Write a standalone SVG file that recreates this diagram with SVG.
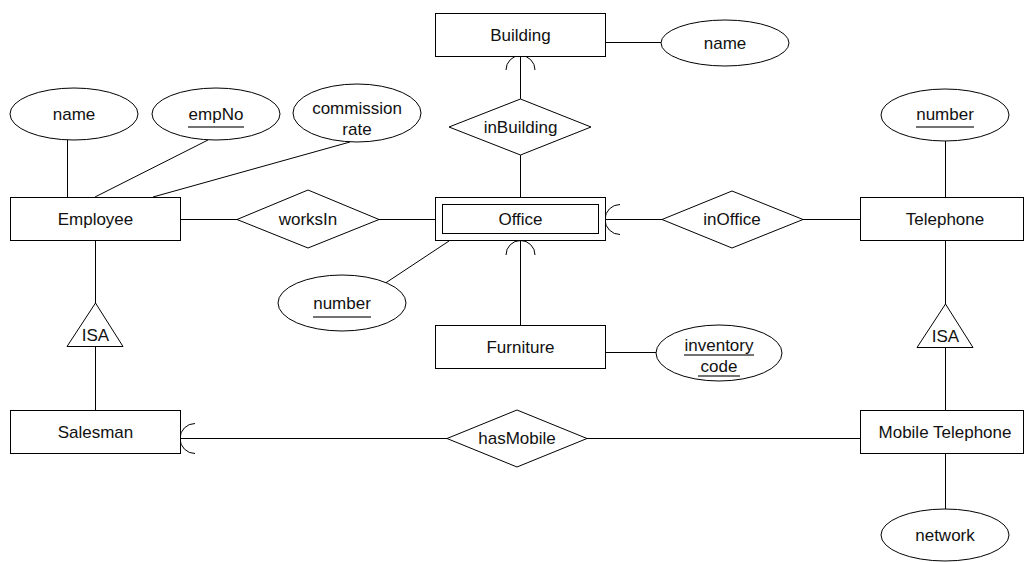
<svg xmlns="http://www.w3.org/2000/svg" width="1026" height="562" viewBox="0 0 1026 562">
<style>
  .shape { fill: #fff; stroke: #000; stroke-width: 1; }
  .line { fill: none; stroke: #000; stroke-width: 1; }
  .ul { stroke: #444; stroke-width: 1.5; }
  text { font-family: "Liberation Sans", Arial, sans-serif; font-size: 17px; fill: #111; text-anchor: middle; }
</style>
<rect width="1026" height="562" fill="#fff"/>
<g id="connectors">
  <line class="line" x1="67.5" y1="140" x2="67.5" y2="197"/>
  <line class="line" x1="208" y1="140" x2="95" y2="197"/>
  <line class="line" x1="350" y1="142" x2="153" y2="197"/>
  <line class="line" x1="181" y1="219.5" x2="237" y2="219.5"/>
  <line class="line" x1="379" y1="219.5" x2="435" y2="219.5"/>
  <line class="line" x1="605" y1="42.5" x2="661" y2="42.5"/>
  <line class="line" x1="520.5" y1="56" x2="520.5" y2="99"/>
  <path class="line" d="M506,70 A14.5,14.5 0 0 1 535,70"/>
  <line class="line" x1="520.5" y1="155" x2="520.5" y2="197"/>
  <line class="line" x1="605" y1="219.5" x2="662" y2="219.5"/>
  <path class="line" d="M620,204.5 A15,15 0 0 0 620,234.5"/>
  <line class="line" x1="803" y1="219.5" x2="860" y2="219.5"/>
  <line class="line" x1="384" y1="284" x2="449" y2="241"/>
  <line class="line" x1="520.5" y1="241" x2="520.5" y2="325"/>
  <path class="line" d="M506,255 A14.5,14.5 0 0 1 535,255"/>
  <line class="line" x1="605" y1="352.5" x2="656" y2="352.5"/>
  <line class="line" x1="945.5" y1="141" x2="945.5" y2="197"/>
  <line class="line" x1="945.5" y1="240" x2="945.5" y2="304"/>
  <line class="line" x1="945.5" y1="347" x2="945.5" y2="410"/>
  <line class="line" x1="945.5" y1="453" x2="945.5" y2="509"/>
  <line class="line" x1="95.5" y1="241" x2="95.5" y2="303"/>
  <line class="line" x1="95.5" y1="346" x2="95.5" y2="410"/>
  <line class="line" x1="181" y1="438.5" x2="447" y2="438.5"/>
  <path class="line" d="M195,423.5 A15,15 0 0 0 195,453.5"/>
  <line class="line" x1="587" y1="438.5" x2="860" y2="438.5"/>
</g>
<g id="attr-name">
  <ellipse class="shape" cx="74" cy="114" rx="64" ry="26"/>
  <text x="74" y="120">name</text>
</g>
<g id="attr-empNo">
  <ellipse class="shape" cx="216" cy="114" rx="64" ry="26"/>
  <text x="216" y="120">empNo</text>
  <line class="ul" x1="188" y1="127" x2="244" y2="127"/>
</g>
<g id="attr-commission">
  <ellipse class="shape" cx="357" cy="113" rx="64" ry="29"/>
  <text x="357" y="114">commission</text>
  <text x="357" y="135">rate</text>
</g>
<g id="employee">
  <rect class="shape" x="10.5" y="197.5" width="170" height="43"/>
  <text x="95.5" y="225">Employee</text>
</g>
<g id="worksIn">
  <polygon class="shape" points="237,219.5 308,190 379,219.5 308,248"/>
  <text x="308" y="225">worksIn</text>
</g>
<g id="building">
  <rect class="shape" x="435.5" y="13.5" width="170" height="43"/>
  <text x="520.5" y="41">Building</text>
</g>
<g id="attr-building-name">
  <ellipse class="shape" cx="725" cy="43" rx="64" ry="23"/>
  <text x="725" y="49">name</text>
</g>
<g id="inBuilding">
  <polygon class="shape" points="449,127 520.5,99 591,127 520.5,155"/>
  <text x="520.5" y="133">inBuilding</text>
</g>
<g id="office">
  <rect class="shape" x="435.5" y="197.5" width="170" height="43"/>
  <rect class="shape" x="442.5" y="204.5" width="156" height="29"/>
  <text x="520.5" y="225">Office</text>
</g>
<g id="inOffice">
  <polygon class="shape" points="662,219.5 732,191 803,219.5 732,248"/>
  <text x="732" y="225">inOffice</text>
</g>
<g id="attr-tel-number">
  <ellipse class="shape" cx="945" cy="115" rx="64" ry="26"/>
  <text x="945" y="120">number</text>
  <line class="ul" x1="916" y1="127" x2="974" y2="127"/>
</g>
<g id="telephone">
  <rect class="shape" x="860.5" y="197.5" width="163" height="43"/>
  <text x="945" y="225">Telephone</text>
</g>
<g id="attr-office-number">
  <ellipse class="shape" cx="342" cy="303" rx="64" ry="28"/>
  <text x="342" y="309">number</text>
  <line class="ul" x1="313" y1="317" x2="371" y2="317"/>
</g>
<g id="furniture">
  <rect class="shape" x="435.5" y="325.5" width="170" height="43"/>
  <text x="520.5" y="353">Furniture</text>
</g>
<g id="attr-inventory">
  <ellipse class="shape" cx="719" cy="353" rx="63" ry="28"/>
  <text x="719" y="351">inventory</text>
  <line class="ul" x1="684" y1="355" x2="754" y2="355"/>
  <text x="719" y="372">code</text>
  <line class="ul" x1="698" y1="376" x2="740" y2="376"/>
</g>
<g id="isa-employee">
  <polygon class="shape" points="95.5,303 123,346.5 67,346.5"/>
  <text x="95.5" y="341">ISA</text>
</g>
<g id="isa-telephone">
  <polygon class="shape" points="945.5,304 973,347.5 917,347.5"/>
  <text x="945.5" y="342">ISA</text>
</g>
<g id="salesman">
  <rect class="shape" x="10.5" y="410.5" width="170" height="43"/>
  <text x="95.5" y="438">Salesman</text>
</g>
<g id="hasMobile">
  <polygon class="shape" points="447,438.5 517,410 587,438.5 517,467"/>
  <text x="517" y="444">hasMobile</text>
</g>
<g id="mobile-telephone">
  <rect class="shape" x="860.5" y="410.5" width="163" height="43"/>
  <text x="945" y="438">Mobile Telephone</text>
</g>
<g id="attr-network">
  <ellipse class="shape" cx="945" cy="535" rx="64" ry="26"/>
  <text x="945" y="541">network</text>
</g>
</svg>
